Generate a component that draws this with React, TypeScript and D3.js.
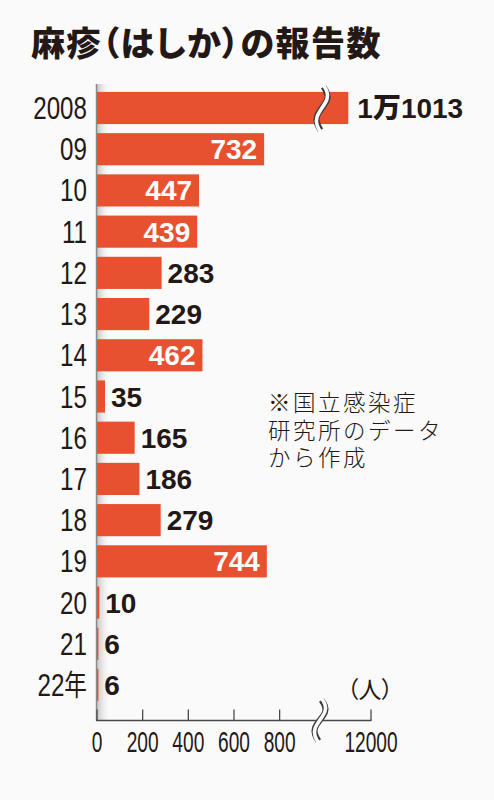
import React from "react";
import * as d3 from "d3";

const years = ["2008", "09", "10", "11", "12", "13", "14", "15", "16", "17", "18", "19", "20", "21", "22年"];
const values = [11013, 732, 447, 439, 283, 229, 462, 35, 165, 186, 279, 744, 10, 6, 6];
const valueLabels = ["1万1013", "732", "447", "439", "283", "229", "462", "35", "165", "186", "279", "744", "10", "6", "6"];
const tickValues = [0, 200, 400, 600, 800, 12000];
const tickLabels = ["0", "200", "400", "600", "800", "12000"];
const title = "麻疹（はしか）の報告数";
const noteLines = ["※国立感染症", "研究所のデータ", "から作成"];
const unitLabel = "（人）";

const W = 494;
const H = 800;
const BAR = "#e8512f";
const INK = "#231815";
const CJK = "'Noto Sans CJK JP', sans-serif";
const NUM = "'Liberation Sans', Arial, sans-serif";

export default function App() {
  const x = d3.scaleLinear().domain([0, 1000, 11000, 12000]).range([97, 325.3, 348, 371]);
  const y = d3
    .scaleBand<string>()
    .domain(years)
    .range([87.4, 705.6])
    .paddingInner(0.22)
    .paddingOuter(0.11);
  const bw = y.bandwidth();
  const axisY = 720.5;
  const x0 = x(0);

  const wave = (cx: number, y0: number, y1: number, a: number) => {
    const h = y1 - y0;
    const pts: [number, number][] = [
      [cx + 1.5, y0],
      [cx + a, y0 + h * 0.3],
      [cx - a, y0 + h * 0.68],
      [cx - 1.5, y1],
    ];
    return d3.line().curve(d3.curveNatural)(pts) || "";
  };

  const topBand = y(years[0]) as number;
  const barBreakX = 322;
  const axisBreakX = 320;

  return (
    <svg
      width={W}
      height={H}
      style={{ position: "absolute", left: 0, top: 0, display: "block", background: "#fafafa" }}
    >
      <defs>
        <linearGradient id="shade" x1="0" x2="1" y1="0" y2="0">
          <stop offset="0" stopColor="#9a9a9a" stopOpacity={0.55} />
          <stop offset="1" stopColor="#ffffff" stopOpacity={0} />
        </linearGradient>
      </defs>
      <rect width={W} height={H} fill="#fafafa" />

      <text
        x={31}
        y={56}
        fontFamily={CJK}
        fontWeight={900}
        fontSize={34}
        fill={INK}
        style={{ fontFeatureSettings: '"palt"' }}
        letterSpacing={1.5}
      >
        {title}
      </text>

      {/* axis shade and vertical line */}
      <rect x={x0} y={84} width={14} height={axisY - 84} fill="url(#shade)" />
      <line x1={x0 - 0.5} x2={x0 - 0.5} y1={84} y2={axisY} stroke="#8a8a8a" strokeWidth={1.5} />

      {years.map((yr, i) => {
        const v = values[i];
        const by = y(yr) as number;
        const bx1 = x(v);
        const cy = by + bw / 2;
        const inside = v >= 400 && v < 1000;
        return (
          <g key={yr}>
            <rect x={x0} y={by} width={Math.max(bx1 - x0, 1.4)} height={bw} fill={BAR} />
            <text
              transform={`translate(87,${cy + 11}) scale(0.78,1)`}
              textAnchor="end"
              fontFamily={NUM}
              fontSize={31}
              fill={INK}
            >
              {yr.replace("年", "")}
              {yr.includes("年") ? (
                <tspan fontFamily={CJK} fontSize={29}>
                  年
                </tspan>
              ) : null}
            </text>
            <text
              x={inside ? bx1 - 7 : bx1 + 6 + (v >= 1000 ? 3 : 0)}
              y={cy + 10}
              textAnchor={inside ? "end" : "start"}
              fontFamily={NUM}
              fontWeight={700}
              fontSize={28}
              fill={inside ? "#ffffff" : INK}
            >
              {valueLabels[i].includes("万") ? (
                <>
                  {valueLabels[i].split("万")[0]}
                  <tspan fontFamily={CJK} fontWeight={900}>万</tspan>
                  {valueLabels[i].split("万")[1]}
                </>
              ) : (
                valueLabels[i]
              )}
            </text>
          </g>
        );
      })}

      {/* break on the first bar */}
      <path d={wave(barBreakX, topBand - 5, topBand + bw + 6, 5)} fill="none" stroke="#3a3a3a" strokeWidth={6} />
      <path d={wave(barBreakX, topBand - 7, topBand + bw + 8, 5)} fill="none" stroke="#fafafa" strokeWidth={3.6} />

      {/* x axis */}
      <line x1={x0 - 1} x2={x(12000) + 0.5} y1={axisY} y2={axisY} stroke="#4a4a4a" strokeWidth={1.3} />
      {tickValues.map((t, i) => (
        <g key={t}>
          <line x1={x(t)} x2={x(t)} y1={axisY - 11} y2={axisY} stroke="#4a4a4a" strokeWidth={1.3} />
          <text
            transform={`translate(${x(t)},752) scale(0.66,1)`}
            textAnchor="middle"
            fontFamily={NUM}
            fontSize={29}
            fill={INK}
          >
            {tickLabels[i]}
          </text>
        </g>
      ))}
      <path d={wave(axisBreakX, 700, 741, 5)} fill="none" stroke="#3a3a3a" strokeWidth={6} />
      <path d={wave(axisBreakX, 698, 743, 5)} fill="none" stroke="#fafafa" strokeWidth={3.6} />

      <text
        x={370}
        y={698}
        textAnchor="middle"
        fontFamily={CJK}
        fontSize={23}
        fill={INK}
        style={{ fontFeatureSettings: '"palt"' }}
      >
        {unitLabel}
      </text>

      {noteLines.map((l, i) => (
        <text
          key={l}
          x={268}
          y={411 + i * 27.5}
          fontFamily={CJK}
          fontWeight={300}
          fontSize={22.5}
          letterSpacing={2.5}
          fill={INK}
        >
          {l}
        </text>
      ))}
    </svg>
  );
}
